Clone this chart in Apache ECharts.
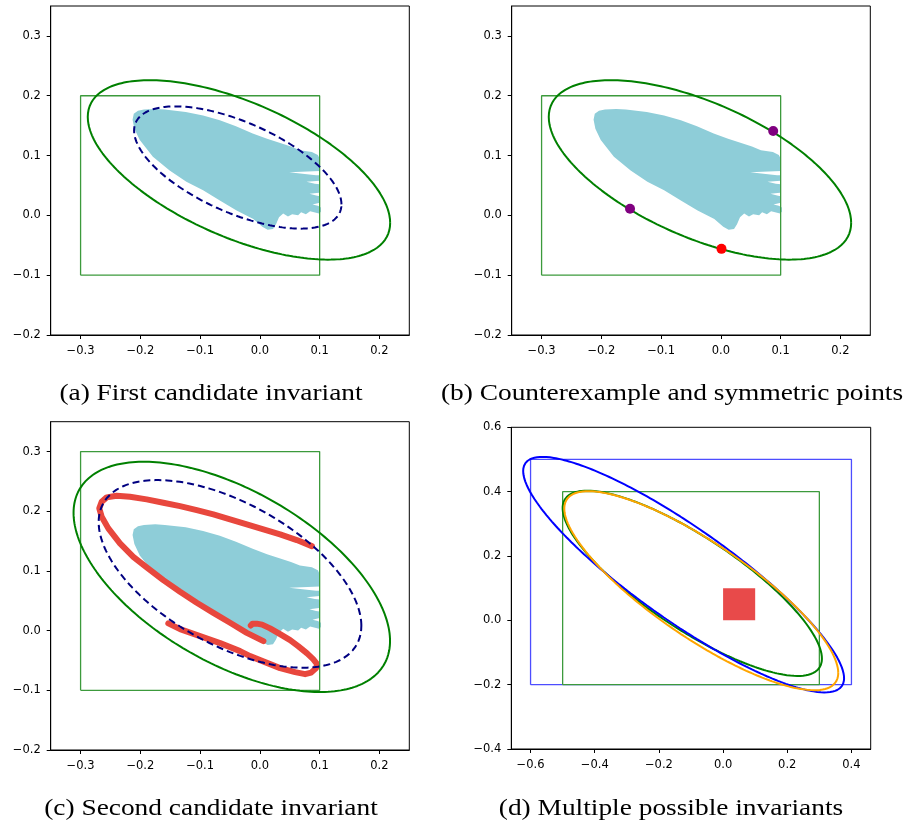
<!DOCTYPE html>
<html><head><meta charset="utf-8">
<script src="https://cdn.jsdelivr.net/npm/echarts@6/dist/echarts.min.js"></script>
<style>html,body{margin:0;padding:0;background:#fff}#c{width:906px;height:825px}</style>
</head><body><div id="c"></div>
<script>
// ---- tick values ----
const xTicksABC = [-0.3, -0.2, -0.1, 0.0, 0.1, 0.2];
const yTicksABC = [-0.2, -0.1, 0.0, 0.1, 0.2, 0.3];
const xTicksD = [-0.6, -0.4, -0.2, 0.0, 0.2, 0.4];
const yTicksD = [-0.4, -0.2, 0.0, 0.2, 0.4, 0.6];
const xRangeABC = [-0.35, 0.25], yRangeABC = [-0.2, 0.35];
const xRangeD = [-0.66, 0.46], yRangeD = [-0.4, 0.6];

// ---- captions ----
const captions = ["(a) First candidate invariant", "(b) Counterexample and symmetric points",
                  "(c) Second candidate invariant", "(d) Multiple possible invariants"];

// ---- reachable-set sample region (outline, data units) ----
const reachOutline = [
 [-0.213,0.160],[-0.211,0.170],[-0.204,0.175],[-0.194,0.177],[-0.175,0.178],[-0.159,0.177],
 [-0.124,0.173],[-0.095,0.167],[-0.067,0.159],[-0.040,0.149],[-0.012,0.137],[0.012,0.128],
 [0.034,0.121],[0.052,0.115],[0.067,0.109],[0.087,0.106],[0.097,0.101],[0.100,0.095],
 [0.100,0.074],[0.049,0.072],[0.075,0.069],[0.094,0.067],[0.100,0.067],[0.100,0.058],
 [0.078,0.056],[0.092,0.053],[0.100,0.052],[0.099,0.038],[0.083,0.036],[0.094,0.033],
 [0.100,0.032],[0.100,0.021],[0.088,0.018],[0.097,0.016],[0.102,0.013],[0.102,0.006],[0.099,0.003],
 [0.084,0.007],[0.077,0.002],[0.069,0.005],[0.064,0.000],[0.054,0.002],[0.047,-0.002],
 [0.039,0.003],[0.032,-0.003],[0.027,-0.015],[0.022,-0.023],[0.013,-0.024],[0.004,-0.019],
 [-0.011,-0.006],[-0.039,0.008],[-0.067,0.025],[-0.095,0.042],[-0.123,0.056],[-0.151,0.075],
 [-0.179,0.098],[-0.201,0.126],[-0.210,0.145]
];

// ---- ellipses: [cx, cy, sxx, sxy, syy] ----
const ellOuterAB = [-0.035, 0.076, 0.0640, -0.0224, 0.0225];
const ellInnerA  = [-0.037, 0.080, 0.0301, -0.0107, 0.01044];
const ellOuterC  = [-0.047, 0.090, 0.0701, -0.0284, 0.0372];
const ellInnerC  = [-0.050, 0.095, 0.0483, -0.0191, 0.0247];
const ellBlueD   = [-0.123, 0.142, 0.250, -0.161, 0.134];
const ellGreenD  = [-0.096, 0.115, 0.1632, -0.0945, 0.0829];
const ellOrangeD = [-0.068, 0.092, 0.1822, -0.109, 0.0957];

// ---- boxes: [x0, y0, x1, y1] ----
const boxABC = [-0.3, -0.1, 0.1, 0.2];
const boxC   = [-0.3, -0.1, 0.1, 0.3];
const boxBlueD  = [-0.6, -0.2, 0.4, 0.5];
const boxGreenD = [-0.5, -0.2, 0.3, 0.4];
const initSetD  = [0.0, 0.0, 0.1, 0.1];

// ---- points in (b) ----
const symmetricPts = [[0.0875, 0.141], [-0.152, 0.011]];
const counterPt = [[0.001, -0.056]];

// ---- trajectories in (c) ----
const trajOuter = [
 [0.0869,0.1416],[0.0618,0.1517],[0.0338,0.1612],[0.0059,0.1696],[-0.0219,0.1780],[-0.0499,0.1864],
 [-0.0778,0.1947],[-0.1056,0.2019],[-0.1336,0.2086],[-0.1616,0.2142],[-0.1894,0.2199],[-0.2173,0.2242],
 [-0.2396,0.2259],[-0.2563,0.2232],[-0.2647,0.2159],[-0.2687,0.2048],[-0.2647,0.1907],[-0.2536,0.1713],
 [-0.2341,0.1461],[-0.2118,0.1237],[-0.1894,0.1059],[-0.1616,0.0846],[-0.1336,0.0650],[-0.1056,0.0466],
 [-0.0778,0.0298],[-0.0499,0.0131],[-0.0219,-0.0037],[0.0059,-0.0176]
];
const trajInner = [
 [-0.1532,0.0121],[-0.1336,0.0025],[-0.1001,-0.0092],[-0.0666,-0.0209],[-0.0331,-0.0344],[-0.0164,-0.0427],
 [0.0087,-0.0528],[0.0338,-0.0628],[0.0589,-0.0695],[0.0757,-0.0729],[0.0857,-0.0704],[0.0941,-0.0628],
 [0.0958,-0.0561],[0.0891,-0.0478],[0.0790,-0.0382],[0.0640,-0.0260],[0.0506,-0.0159],[0.0338,-0.0059],
 [0.0171,0.0037],[0.0037,0.0101],[-0.0052,0.0117],[-0.0122,0.0117],[-0.0152,0.0084]
];

// ---- helpers ----
function ellipsePath(e, n) {
  const [cx, cy, sxx, sxy, syy] = e;
  const l11 = Math.sqrt(sxx), l21 = sxy / l11, l22 = Math.sqrt(syy - l21 * l21);
  const pts = [];
  for (let i = 0; i <= n; i++) {
    const t = 2 * Math.PI * i / n;
    pts.push([cx + l11 * Math.cos(t), cy + l21 * Math.cos(t) + l22 * Math.sin(t)]);
  }
  return pts;
}
function boxPath(b) { return [[b[0],b[1]],[b[2],b[1]],[b[2],b[3]],[b[0],b[3]],[b[0],b[1]]]; }
const fmt = v => v.toFixed(1).replace('-', '\u2212');

const grids = [
  {left: 50.7, top: 6, width: 358.6, height: 329},
  {left: 511.7, top: 6, width: 358.6, height: 329},
  {left: 50.7, top: 421.7, width: 358.6, height: 328.3},
  {left: 511.3, top: 427.3, width: 359.4, height: 321.7}
];
function axis(range, ticks) {
  return {
    type: 'value', min: range[0], max: range[1],
    axisLine: {show: true, onZero: false, lineStyle: {color: '#000', width: 1}},
    axisTick: {show: true, length: 4, customValues: ticks, lineStyle: {color: '#000', width: 1}},
    axisLabel: {customValues: ticks, formatter: fmt, color: '#000', fontFamily: 'DejaVu Sans', fontSize: 11.5, margin: 10},
    splitLine: {show: false}
  };
}
const xAxes = [axis(xRangeABC, xTicksABC), axis(xRangeABC, xTicksABC), axis(xRangeABC, xTicksABC), axis(xRangeD, xTicksD)];
const yAxes = [axis(yRangeABC, yTicksABC), axis(yRangeABC, yTicksABC), axis(yRangeABC, yTicksABC), axis(yRangeD, yTicksD)];
xAxes.forEach((a, i) => a.gridIndex = i);
yAxes.forEach((a, i) => a.gridIndex = i);

function line(g, data, color, width, extra) {
  return Object.assign({type: 'line', xAxisIndex: g, yAxisIndex: g, data: data, symbol: 'none',
    lineStyle: {color: color, width: width}, silent: true, animation: false, z: 3}, extra || {});
}
function poly(g, outline, color, z) {
  return {type: 'custom', xAxisIndex: g, yAxisIndex: g, data: [[outline[0][0], outline[0][1]]], z: z || 1,
    animation: false, silent: true,
    renderItem: (p, api) => ({type: 'polygon', shape: {points: outline.map(q => api.coord(q))}, style: {fill: color}})};
}
const series = [];
// (a)
series.push(poly(0, reachOutline, '#8ecdd8'));
series.push(line(0, boxPath(boxABC), '#3c9a3c', 1.3));
series.push(line(0, ellipsePath(ellOuterAB, 240), '#008000', 2));
series.push(line(0, ellipsePath(ellInnerA, 240), '#000080', 2, {lineStyle: {color: '#000080', width: 2, type: [7, 4]}}));
// (b)
series.push(poly(1, reachOutline, '#8ecdd8'));
series.push(line(1, boxPath(boxABC), '#3c9a3c', 1.3));
series.push(line(1, ellipsePath(ellOuterAB, 240), '#008000', 2));
series.push({type: 'scatter', xAxisIndex: 1, yAxisIndex: 1, data: symmetricPts, symbolSize: 10,
  itemStyle: {color: '#800080', opacity: 1}, z: 5, animation: false});
series.push({type: 'scatter', xAxisIndex: 1, yAxisIndex: 1, data: counterPt, symbolSize: 10,
  itemStyle: {color: '#ff0000', opacity: 1}, z: 5, animation: false});
// (c)
series.push(poly(2, reachOutline, '#8ecdd8'));
series.push(line(2, trajOuter, '#e8473d', 6, {lineStyle: {color: '#e8473d', width: 6, cap: 'round', join: 'round'}, z: 3}));
series.push(line(2, trajInner, '#e8473d', 6, {lineStyle: {color: '#e8473d', width: 6, cap: 'round', join: 'round'}, z: 3}));
series.push(line(2, boxPath(boxC), '#3c9a3c', 1.3, {z: 4}));
series.push(line(2, ellipsePath(ellOuterC, 240), '#008000', 2, {z: 4}));
series.push(line(2, ellipsePath(ellInnerC, 240), '#000080', 2, {lineStyle: {color: '#000080', width: 2, type: [7, 4]}, z: 4}));
// (d)
series.push(line(3, boxPath(boxBlueD), '#4d4dff', 1.3));
series.push(line(3, boxPath(boxGreenD), '#3c9a3c', 1.3));
series.push(poly(3, boxPath(initSetD), '#e84a4a', 2));
series.push(line(3, ellipsePath(ellGreenD, 300), '#008000', 2, {z: 4}));
series.push(line(3, ellipsePath(ellBlueD, 300), '#0000ff', 2, {z: 4}));
series.push(line(3, ellipsePath(ellOrangeD, 300), '#ffa500', 2, {z: 4}));

const capPos = [[211, 394], [672, 394], [211, 809], [671, 809]];
const graphics = captions.map((t, i) => ({type: 'text', x: capPos[i][0], y: capPos[i][1], scaleX: 1.19,
  style: {text: t, textAlign: 'center', textVerticalAlign: 'middle', fill: '#000',
    font: '23px "Liberation Serif", "DejaVu Serif", serif'}}));

const chart = echarts.init(document.getElementById('c'), null, {renderer: 'canvas'});
chart.setOption({
  animation: false,
  grid: grids.map(g => Object.assign({show: true, borderColor: '#000', borderWidth: 1, containLabel: false}, g)),
  xAxis: xAxes, yAxis: yAxes, series: series, graphic: graphics
});
</script></body></html>
